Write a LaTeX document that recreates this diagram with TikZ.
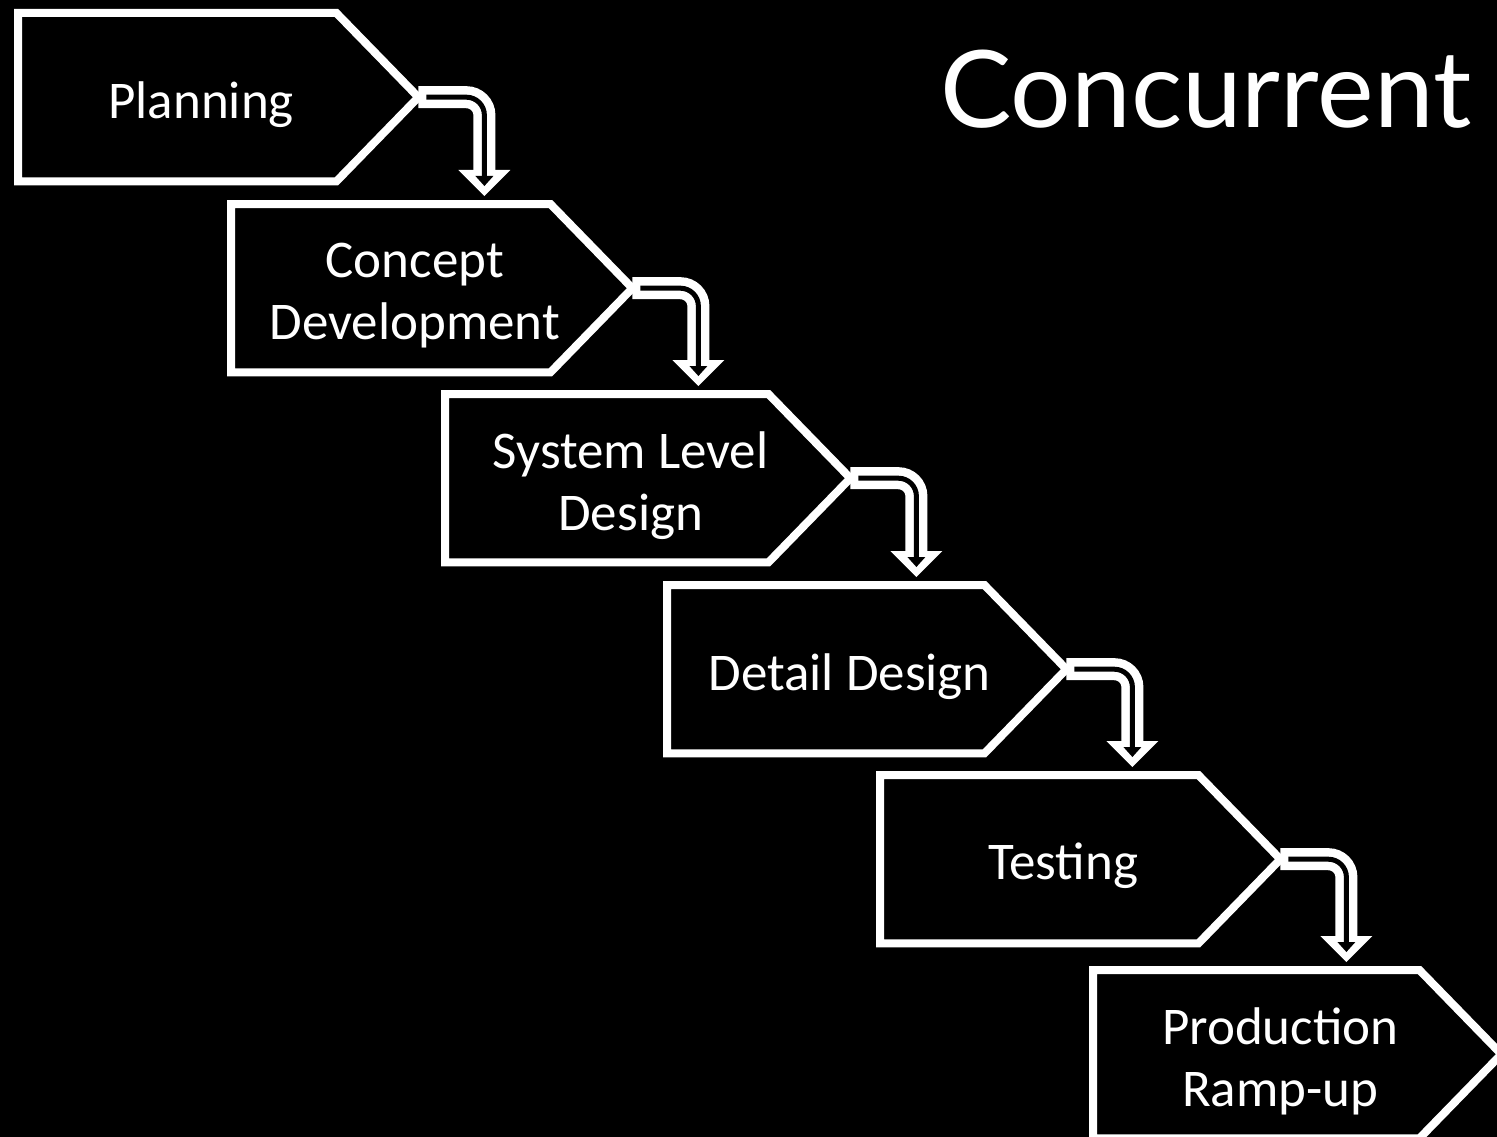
\documentclass[tikz,border=0pt]{standalone}
\usepackage{fontspec}
\setmainfont{Carlito}
\newfontfamily\titlefont{Lato}
\usetikzlibrary{calc}
\newcommand{\stagedraw}[5]{%
  \node[stagebox, minimum width=#5] (#1) at (#2,#3) {};
  \draw[stageline] (#1.north west) -- ($(#1.north east)+(-82,0)$) -- (#1.east)
     -- ($(#1.south east)+(-82,0)$) -- (#1.south west) -- cycle;
  \node[stagetext] (#1t) at ($(#1.center)+(-17,7)$) {#4};
}
\newcommand{\conndraw}[2]{%
  \coordinate (#1c) at ($(#1.east)+(66,0)$);
  \coordinate (#1h) at ($(#1c |- #2.north)+(0,-8)$);
  \coordinate (#1b) at ($(#1h)+(0,-26)$);
  \fill[white] ($(#1b)+(-26,0)$) -- ($(#1b)+(26,0)$) -- (#1h) -- cycle;
  \draw[shaftout] (#1.east) -| ($(#1b)+(0,1)$);
  \fill[black] ($(#1b)+(-9,6)$) -- ($(#1b)+(9,6)$) -- ($(#1h)+(0,-10)$) -- cycle;
  \draw[shaftin] ($(#1.east)+(8,0)$) -| ($(#1b)+(0,7)$);
}
\begin{document}
\begin{tikzpicture}[x=1pt,y=-1pt,
  stagebox/.style={draw=none, minimum height=168pt, inner sep=0pt, anchor=north west},
  stageline/.style={draw=white, line width=8pt, line join=miter},
  stagetext/.style={text=white, font=\fontsize{53}{62}\selectfont, align=center},
  shaftout/.style={draw=white, line width=22pt, rounded corners=18pt},
  shaftin/.style={draw=black, line width=5pt, rounded corners=18pt},
]
\fill[black] (0,0) rectangle (1497,1137);
\useasboundingbox (0,0) rectangle (1497,1137);

\node[text=white, font=\titlefont\fontsize{107}{120}\selectfont, anchor=base west, inner sep=0pt] (title) at (940,128) {Concurrent};

\stagedraw{s1}{18}{13}{Planning}{400pt}
\stagedraw{s2}{231}{204}{Concept\\Development}{401pt}
\stagedraw{s3}{445}{394}{System Level\\Design}{405pt}
\stagedraw{s4}{667}{585}{Detail Design}{399pt}
\stagedraw{s5}{880}{775}{Testing}{400pt}
\stagedraw{s6}{1093}{970}{Production\\Ramp-up}{408pt}

\conndraw{s1}{s2}
\conndraw{s2}{s3}
\conndraw{s3}{s4}
\conndraw{s4}{s5}
\conndraw{s5}{s6}
\end{tikzpicture}
\end{document}
